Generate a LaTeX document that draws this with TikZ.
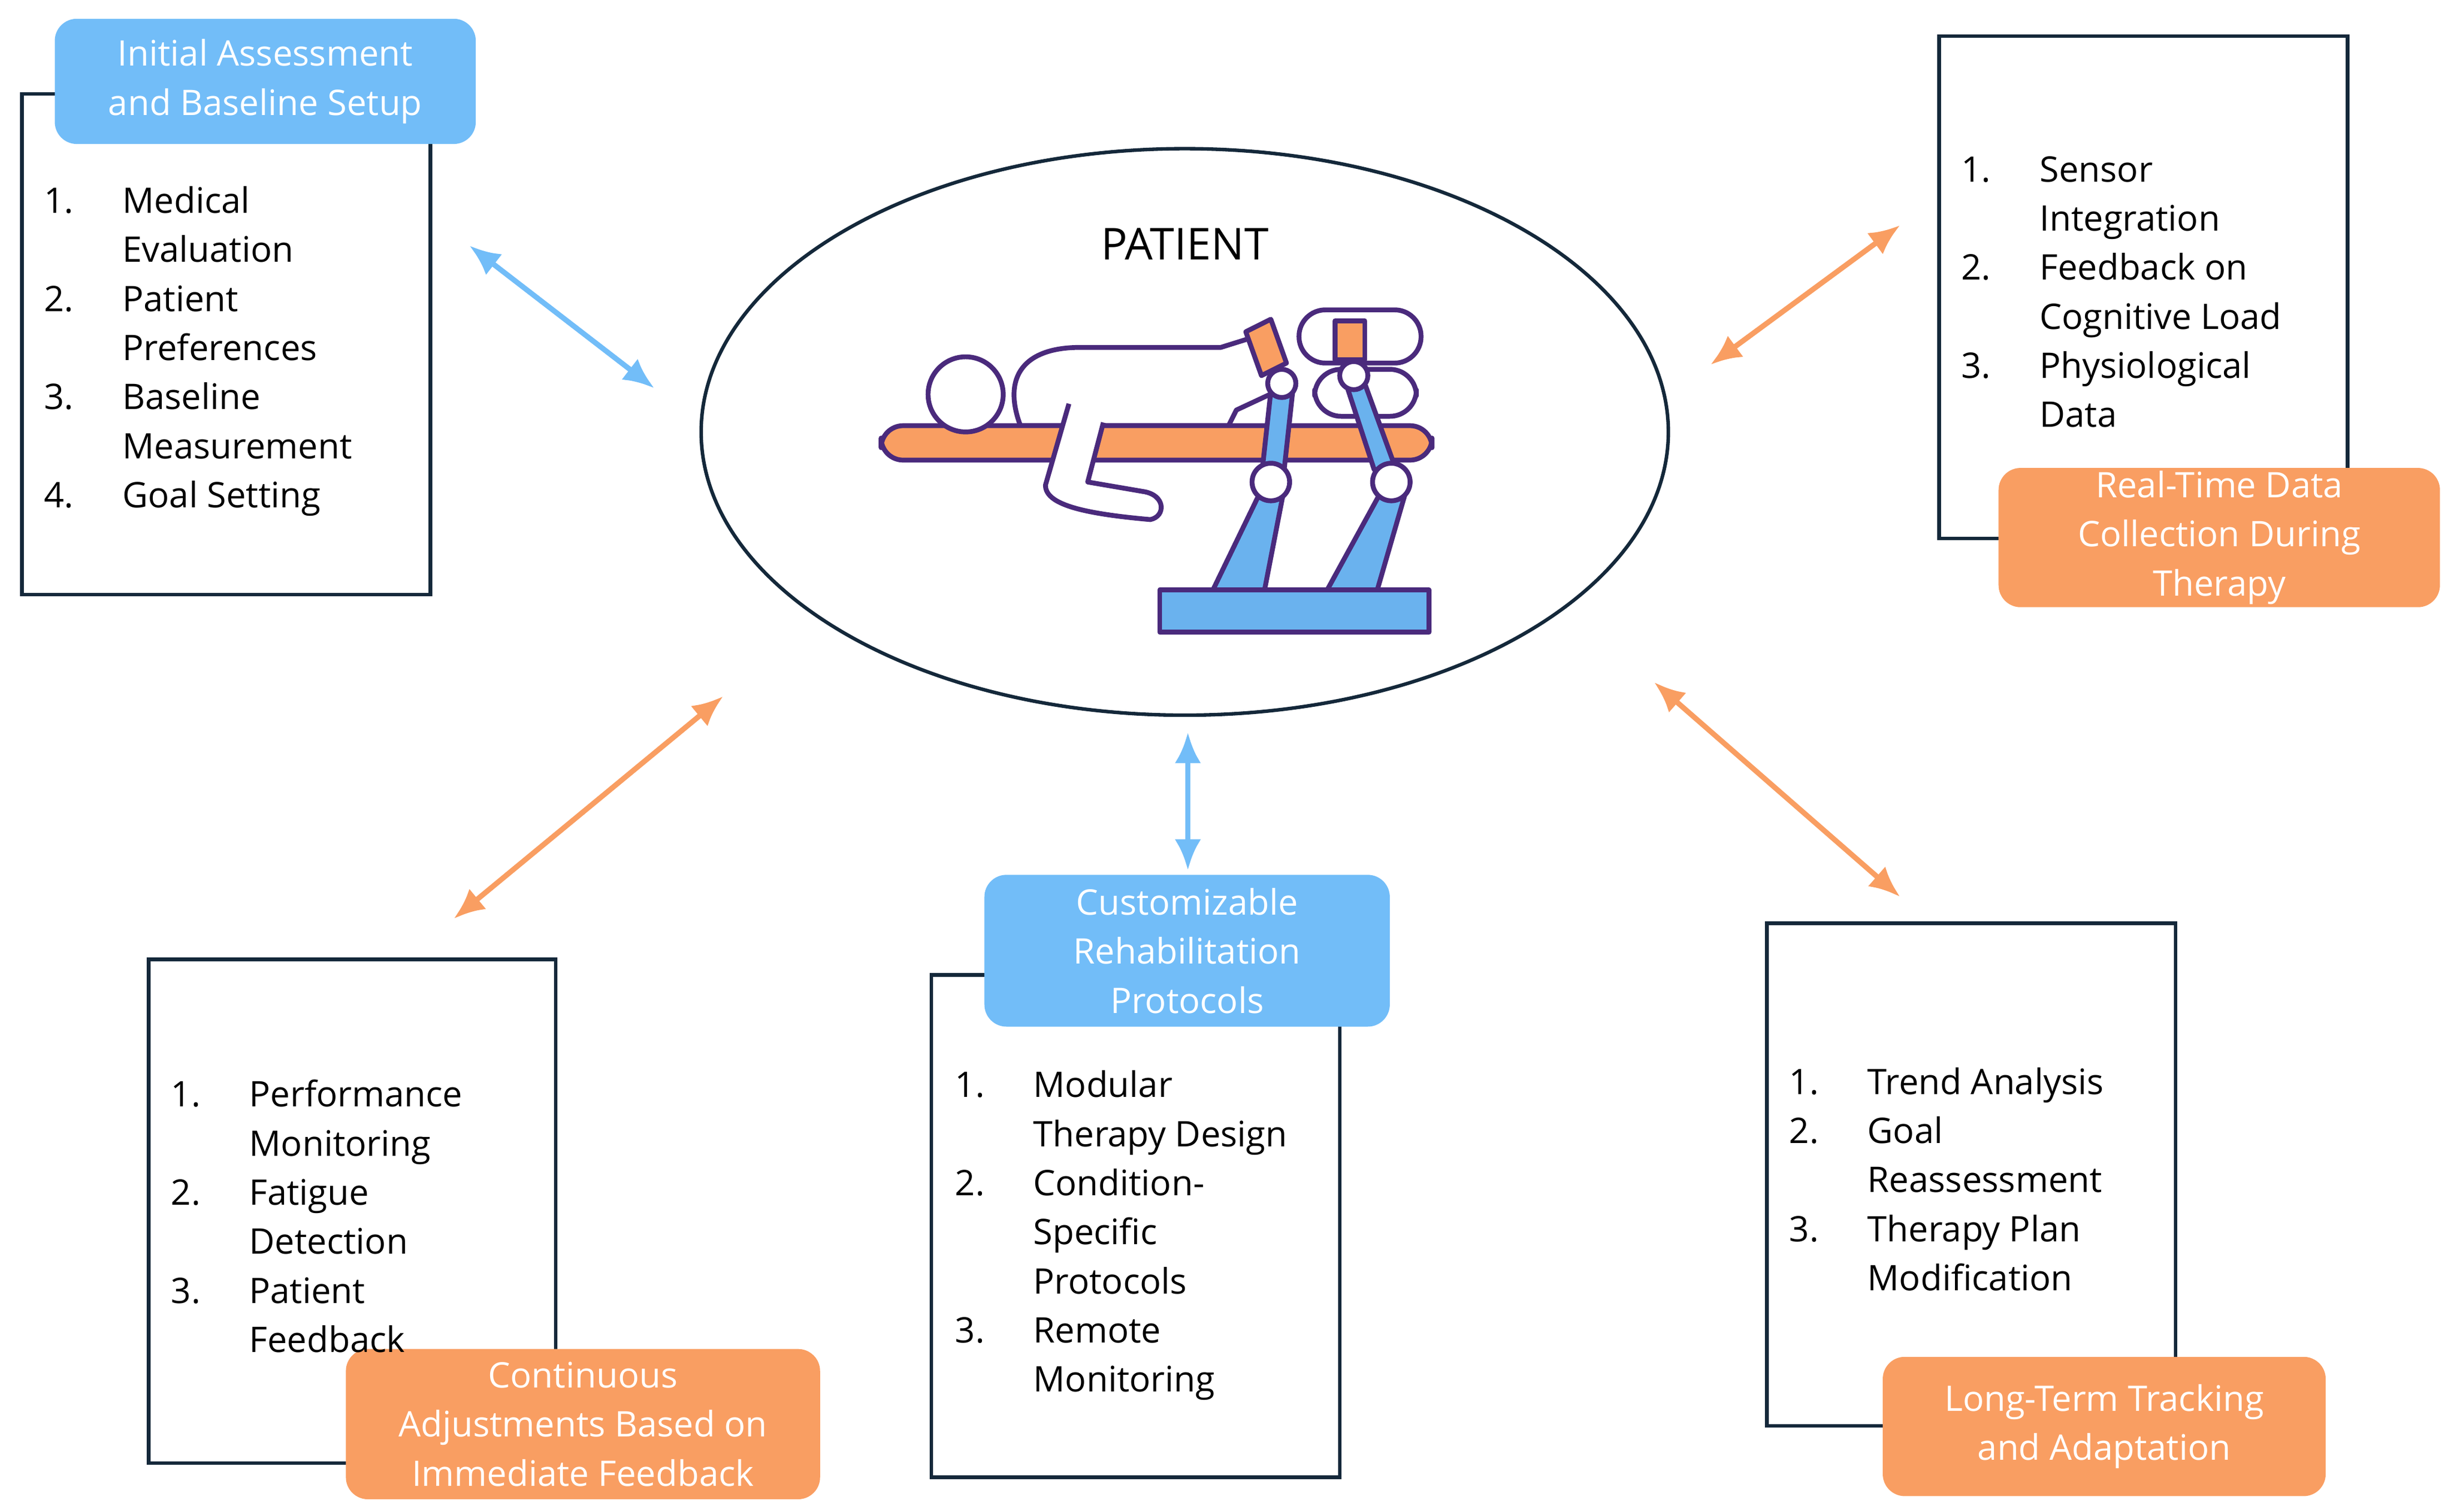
\documentclass[tikz,border=0pt]{standalone}
\usepackage{fontspec}
\setmainfont{Open Sans}
\usetikzlibrary{arrows.meta,shapes.geometric}
\definecolor{bl}{HTML}{72BDF8}
\definecolor{orr}{HTML}{F99E62}
\definecolor{nv}{HTML}{14283A}
\definecolor{pu}{HTML}{4A2A7C}
\definecolor{ic}{HTML}{6AB2EE}
\begin{document}
\begin{tikzpicture}[x=0.025cm,y=-0.025cm,
 box/.style={draw=nv,line width=1.6pt,fill=white},
 lab/.style={rounded corners=10pt,inner sep=0pt},
 ltxt/.style={text=white,align=center,font=\fontsize{16}{22.3}\selectfont},
 lst/.style={anchor=north west,inner sep=0pt,font=\fontsize{16}{22.3}\selectfont},
 arr/.style={{Latex[length=14pt,width=12pt]}-{Latex[length=14pt,width=12pt]},line width=2.4pt},
 ico/.style={draw=pu,line width=2.2pt,line join=round}]
\useasboundingbox (0,0) rectangle (1568,966);
% ellipse
\node[draw=nv,line width=1.6pt,ellipse,minimum width=618*0.025cm,minimum height=362*0.025cm] (ell) at (757,276) {};
\node[font=\fontsize{20}{24}\selectfont] (pt) at (757,156) {PATIENT};
% icon
\draw[ico,fill=white] (652,272) .. controls (640,240) and (655,222) .. (690,222) -- (780,222) -- (812,212) -- (820,248) -- (790,262) -- (785,272) -- cycle;
\draw[ico,fill=orr,rounded corners=10pt] (563,272) rectangle (915,294);
\draw[ico,fill=white] (617,252) circle (24);
\draw[ico,fill=white] (683,258) -- (668,310) .. controls (668,322) and (690,328) .. (735,332) .. controls (745,330) and (745,316) .. (730,314) -- (695,308) -- (705,270);
\draw[ico,fill=white,rounded corners=12pt] (830,198) rectangle (908,232);
\draw[ico,fill=white,rounded corners=12pt] (840,236) rectangle (905,266);
\draw[ico,fill=orr] (796,212) -- (812,204) -- (822,232) -- (806,240) -- cycle;
\draw[ico,fill=orr] (853,205) rectangle (872,230);
\draw[ico,fill=ic] (812,250) -- (826,250) -- (820,305) -- (806,305) -- cycle;
\draw[ico,fill=ic] (860,245) -- (872,245) -- (892,300) -- (878,300) -- cycle;
\draw[ico,fill=ic] (805,315) -- (820,315) -- (808,377) -- (775,377) -- cycle;
\draw[ico,fill=ic] (882,315) -- (898,315) -- (880,377) -- (848,377) -- cycle;
\draw[ico,fill=white] (819,245) circle (9) (865,240) circle (9) (812,308) circle (12) (889,308) circle (12);
\draw[ico,fill=ic] (741,377) rectangle (913,404);
% box 1
\node[box,minimum width=261*0.025cm,minimum height=320*0.025cm] (b1) at (144.5,220) {};
\node[lab,fill=bl,minimum width=269*0.025cm,minimum height=80*0.025cm] (l1) at (169.5,52) {};
\node[ltxt] (t1) at (169.5,52) {Initial Assessment\\and Baseline Setup};
\node[lst] (s1) at (28,114) {\begin{tabular}{@{}p{1.25cm}@{}l@{}}1.&Medical\\&Evaluation\\2.&Patient\\&Preferences\\3.&Baseline\\&Measurement\\4.&Goal Setting\end{tabular}};
% box 2
\node[box,minimum width=261*0.025cm,minimum height=321*0.025cm] (b2) at (1369.5,183.5) {};
\node[lab,fill=orr,minimum width=282*0.025cm,minimum height=89*0.025cm] (l2) at (1418,343.5) {};
\node[ltxt] (t2) at (1418,343.5) {Real-Time Data\\Collection During\\Therapy};
\node[lst] (s2) at (1253,94) {\begin{tabular}{@{}p{1.25cm}@{}l@{}}1.&Sensor\\&Integration\\2.&Feedback on\\&Cognitive Load\\3.&Physiological\\&Data\end{tabular}};
% box 3
\node[box,minimum width=260*0.025cm,minimum height=322*0.025cm] (b3) at (225,774) {};
\node[lab,fill=orr,minimum width=303*0.025cm,minimum height=96*0.025cm] (l3) at (372.5,910) {};
\node[ltxt] (t3) at (372.5,910) {Continuous\\Adjustments Based on\\Immediate Feedback};
\node[lst] (s3) at (109,685) {\begin{tabular}{@{}p{1.25cm}@{}l@{}}1.&Performance\\&Monitoring\\2.&Fatigue\\&Detection\\3.&Patient\\&Feedback\end{tabular}};
% box 4
\node[box,minimum width=261*0.025cm,minimum height=321*0.025cm] (b4) at (725.5,783.5) {};
\node[lab,fill=bl,minimum width=259*0.025cm,minimum height=97*0.025cm] (l4) at (758.5,607.5) {};
\node[ltxt] (t4) at (758.5,607.5) {Customizable\\Rehabilitation\\Protocols};
\node[lst] (s4) at (610,679) {\begin{tabular}{@{}p{1.25cm}@{}l@{}}1.&Modular\\&Therapy Design\\2.&Condition-\\&Specific\\&Protocols\\3.&Remote\\&Monitoring\end{tabular}};
% box 5
\node[box,minimum width=261*0.025cm,minimum height=321*0.025cm] (b5) at (1259.5,750.5) {};
\node[lab,fill=orr,minimum width=283*0.025cm,minimum height=89*0.025cm] (l5) at (1344.5,911.5) {};
\node[ltxt] (t5) at (1344.5,911.5) {Long-Term Tracking\\and Adaptation};
\node[lst] (s5) at (1143,677) {\begin{tabular}{@{}p{1.25cm}@{}l@{}}1.&Trend Analysis\\2.&Goal\\&Reassessment\\3.&Therapy Plan\\&Modification\end{tabular}};
% arrows
\coordinate (a1) at (300,157); \coordinate (a2) at (418,248);
\coordinate (c1) at (1214,144); \coordinate (c2) at (1093,233);
\coordinate (d1) at (462,445); \coordinate (d2) at (290,587);
\coordinate (e1) at (759,468); \coordinate (e2) at (759,556);
\coordinate (f1) at (1057,436); \coordinate (f2) at (1214,573);
\draw[arr,bl] (a1) -- (a2);
\draw[arr,orr] (c1) -- (c2);
\draw[arr,orr] (d1) -- (d2);
\draw[arr,bl] (e1) -- (e2);
\draw[arr,orr] (f1) -- (f2);
\end{tikzpicture}
\end{document}
